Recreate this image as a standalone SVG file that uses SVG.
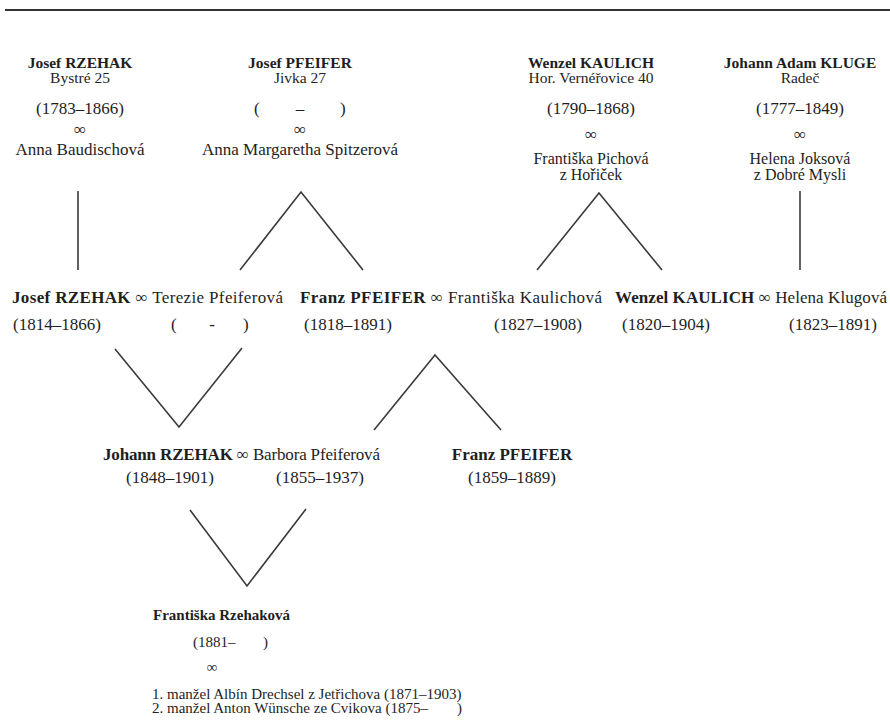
<svg xmlns="http://www.w3.org/2000/svg" width="890" height="723" viewBox="0 0 890 723">
<style>
text{font-family:"Liberation Serif","Times New Roman",serif;font-size:17px;fill:#1e1e1e}
.b{font-weight:bold}
.c{text-anchor:middle}
.h{font-size:15.5px}
.t{font-size:16px}
.s{font-size:15px}
.ln{stroke:#3a3a3a;stroke-width:1.6;fill:none}
</style>
<rect width="890" height="723" fill="#fff"/>
<line x1="5" y1="10" x2="890" y2="10" stroke="#333" stroke-width="2"/>

<g id="josef-rzehak-1783">
<text class="b c h" x="80" y="68">Josef RZEHAK</text>
<text class="c h" x="80" y="83">Bystré 25</text>
<text class="c" x="80" y="114">(1783–1866)</text>
<text class="c" x="80" y="135">∞</text>
<text class="c" x="80" y="155">Anna Baudischová</text>
</g>
<g id="josef-pfeifer">
<text class="b c h" x="300" y="68">Josef PFEIFER</text>
<text class="c h" x="300" y="83">Jivka 27</text>
<text x="254" y="114">(</text><text class="c" x="300" y="114">–</text><text x="340" y="114">)</text>
<text class="c" x="300" y="135">∞</text>
<text class="c" x="300" y="155">Anna Margaretha Spitzerová</text>
</g>
<g id="wenzel-kaulich-1790">
<text class="b c h" x="591" y="68">Wenzel KAULICH</text>
<text class="c h" x="591" y="83">Hor. Vernéřovice 40</text>
<text class="c" x="591" y="114">(1790–1868)</text>
<text class="c" x="591" y="140">∞</text>
<text class="c t" x="591" y="164">Františka Pichová</text>
<text class="c t" x="591" y="180">z Hořiček</text>
</g>
<g id="johann-adam-kluge">
<text class="b c h" x="800" y="68">Johann Adam KLUGE</text>
<text class="c h" x="800" y="83">Radeč</text>
<text class="c" x="800" y="114">(1777–1849)</text>
<text class="c" x="800" y="140">∞</text>
<text class="c t" x="800" y="164">Helena Joksová</text>
<text class="c t" x="800" y="180">z Dobré Mysli</text>
</g>

<g id="josef-rzehak-1814">
<text x="12" y="303" textLength="271"><tspan class="b">Josef RZEHAK</tspan> ∞ Terezie Pfeiferová</text>
<text class="c" x="57" y="330">(1814–1866)</text>
<text x="171" y="330">(</text><text class="c" x="212" y="330">-</text><text x="243" y="330">)</text>
</g>
<g id="franz-pfeifer-1818">
<text x="300" y="303" textLength="302"><tspan class="b">Franz PFEIFER</tspan> ∞ Františka Kaulichová</text>
<text class="c" x="348" y="330">(1818–1891)</text>
<text class="c" x="538" y="330">(1827–1908)</text>
</g>
<g id="wenzel-kaulich-1820">
<text x="615" y="303" textLength="272"><tspan class="b">Wenzel KAULICH</tspan> ∞ Helena Klugová</text>
<text class="c" x="666" y="330">(1820–1904)</text>
<text class="c" x="833" y="330">(1823–1891)</text>
</g>

<g id="johann-rzehak">
<text x="103" y="460" textLength="277"><tspan class="b">Johann RZEHAK</tspan> ∞ Barbora Pfeiferová</text>
<text class="c" x="170" y="483">(1848–1901)</text>
<text class="c" x="320" y="483">(1855–1937)</text>
</g>
<g id="franz-pfeifer-1859">
<text class="b c" x="512" y="460">Franz PFEIFER</text>
<text class="c" x="512" y="483">(1859–1889)</text>
</g>

<g id="frantiska-rzehakova">
<text class="b s" x="153" y="620">Františka Rzehaková</text>
<text class="s" x="193" y="647">(1881–</text><text class="s" x="263" y="647">)</text>
<text class="s c" x="212" y="672">∞</text>
<text class="s" x="152" y="699">1. manžel Albín Drechsel z Jetřichova (1871–1903)</text>
<text class="s" x="152" y="713">2. manžel Anton Wünsche ze Cvikova (1875–</text><text class="s" x="457" y="713">)</text>
</g>

<g id="connectors">
<line class="ln" x1="78" y1="191" x2="78" y2="270"/>
<polyline class="ln" points="240,270 301,192 363,270"/>
<polyline class="ln" points="537,270 599,193 662,270"/>
<line class="ln" x1="800" y1="191" x2="800" y2="270"/>
<polyline class="ln" points="115,349 179,427 242,348"/>
<polyline class="ln" points="374,430 435,355 501,430"/>
<polyline class="ln" points="190,510 247,586 306,509"/>
</g>
</svg>
